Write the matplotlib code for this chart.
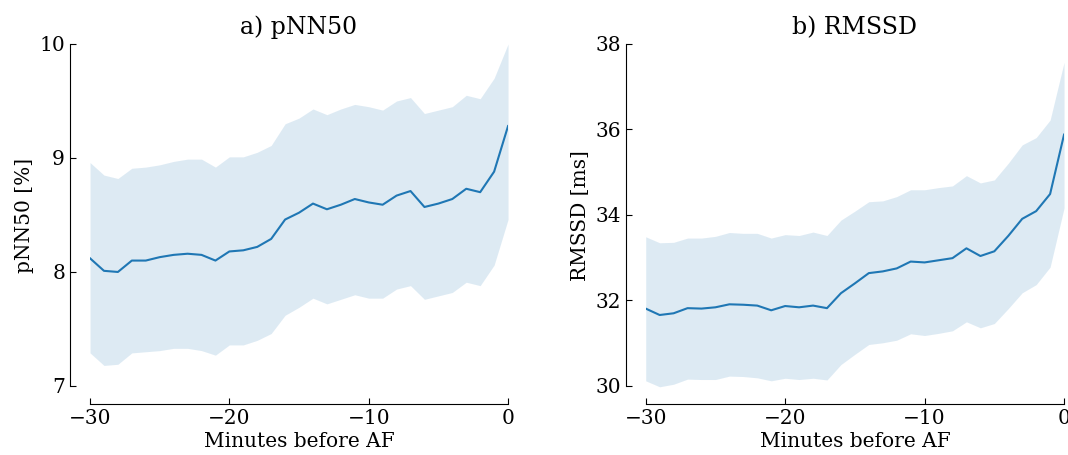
import numpy as np
import matplotlib
matplotlib.use("Agg")
import matplotlib.pyplot as plt

plt.rcParams['font.family'] = ['DejaVu Serif']

# Minutes before AF onset
minutes = np.arange(-30, 1)

# pNN50 [%]: mean and band
pnn50_mean = [8.12, 8.01, 8.00, 8.10, 8.10, 8.13, 8.15, 8.16, 8.15, 8.10,
              8.18, 8.19, 8.22, 8.29, 8.46, 8.52, 8.60, 8.55, 8.59, 8.64,
              8.61, 8.59, 8.67, 8.71, 8.57, 8.60, 8.64, 8.73, 8.70, 8.88, 9.28]
pnn50_upper = [8.96, 8.85, 8.82, 8.91, 8.92, 8.94, 8.97, 8.99, 8.99, 8.92,
               9.01, 9.01, 9.05, 9.11, 9.30, 9.35, 9.43, 9.38, 9.43, 9.47,
               9.45, 9.42, 9.50, 9.53, 9.39, 9.42, 9.45, 9.55, 9.52, 9.70, 10.0]
pnn50_lower = [7.29, 7.18, 7.19, 7.29, 7.30, 7.31, 7.33, 7.33, 7.31, 7.27,
               7.36, 7.36, 7.40, 7.46, 7.62, 7.69, 7.77, 7.72, 7.76, 7.80,
               7.77, 7.77, 7.85, 7.88, 7.76, 7.79, 7.82, 7.91, 7.88, 8.06, 8.46]

# RMSSD [ms]: mean and band
rmssd_mean = [31.81, 31.66, 31.70, 31.82, 31.81, 31.84, 31.91, 31.90, 31.88, 31.77,
              31.87, 31.84, 31.88, 31.82, 32.17, 32.40, 32.64, 32.68, 32.75, 32.91,
              32.89, 32.94, 32.99, 33.22, 33.04, 33.15, 33.51, 33.91, 34.09, 34.49, 35.88]
rmssd_upper = [33.49, 33.35, 33.36, 33.46, 33.46, 33.50, 33.59, 33.57, 33.57, 33.46,
               33.54, 33.52, 33.60, 33.52, 33.88, 34.09, 34.31, 34.33, 34.43, 34.59,
               34.59, 34.64, 34.68, 34.92, 34.75, 34.82, 35.21, 35.64, 35.81, 36.22, 37.57]
rmssd_lower = [30.12, 29.98, 30.04, 30.16, 30.15, 30.15, 30.23, 30.22, 30.19, 30.12,
               30.18, 30.15, 30.18, 30.14, 30.50, 30.74, 30.97, 31.01, 31.07, 31.22,
               31.18, 31.23, 31.29, 31.50, 31.36, 31.46, 31.81, 32.18, 32.37, 32.78, 34.16]

panels = [
    ("a) pNN50", "pNN50 [%]", pnn50_mean, pnn50_lower, pnn50_upper, (7, 10), [7, 8, 9, 10]),
    ("b) RMSSD", "RMSSD [ms]", rmssd_mean, rmssd_lower, rmssd_upper, (30, 38), [30, 32, 34, 36, 38]),
]

fig = plt.figure(figsize=(10.68, 4.55), dpi=100)
positions = [[0.0843, 0.1495, 0.3914, 0.7538],
             [0.6046, 0.1495, 0.3917, 0.7538]]

for pos, (title, ylabel, mean, lo, hi, ylim, yticks) in zip(positions, panels):
    ax = fig.add_axes(pos)
    ax.fill_between(minutes, lo, hi, color='C0', alpha=0.15, linewidth=0)
    ax.plot(minutes, mean, color='C0', linewidth=1.5)
    ax.set_xlim(-30, 0)
    ax.set_ylim(ylim[0] - 0.003 * (ylim[1] - ylim[0]), ylim[1])
    ax.set_xticks([-30, -20, -10, 0])
    ax.set_yticks(yticks)
    ax.set_title(title, fontsize=17, pad=7)
    ax.set_xlabel("Minutes before AF", fontsize=14.5, labelpad=3)
    ax.set_ylabel(ylabel, fontsize=14.5)
    ax.tick_params(direction='in', length=4.5, labelsize=14.5)
    for s in ['top', 'right']:
        ax.spines[s].set_visible(False)
    ax.spines['left'].set_position(('outward', 14.5))
    ax.spines['bottom'].set_position(('outward', 12))
    ax.spines['left'].set_bounds(ylim[0], ylim[1])
    ax.spines['bottom'].set_bounds(-30, 0)

fig.savefig("out.png", dpi=100)
